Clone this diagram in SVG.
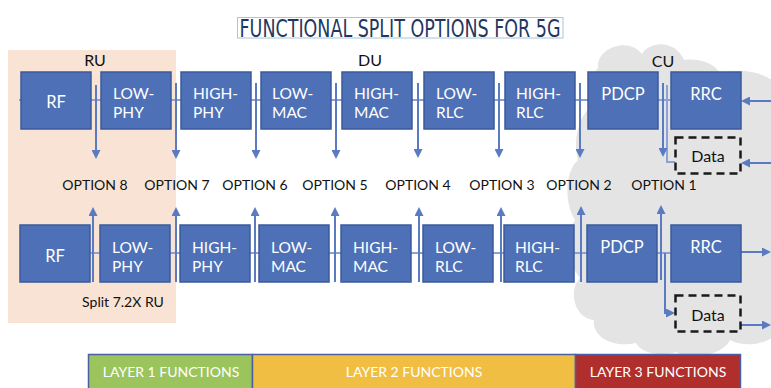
<svg xmlns="http://www.w3.org/2000/svg" width="771" height="388" viewBox="0 0 771 388">
  <defs>
    <style>
      .blk { fill: #4e70b6; stroke: #3b5a9c; stroke-width: 1.5; }
      .bt { font-family: Lato, "Open Sans", "Liberation Sans", sans-serif; font-size: 16.5px; fill: #ffffff; }
      .b2 { font-size: 15.5px; }
      .bc { text-anchor: middle; }
      .lbl { font-family: Lato, "Open Sans", "Liberation Sans", sans-serif; font-size: 16px; fill: #111111; text-anchor: middle; }
      .opt { font-family: Lato, "Open Sans", "Liberation Sans", sans-serif; font-size: 14px; fill: #111111; text-anchor: middle; }
      .bus { stroke: #8aa2d6; stroke-width: 2; fill: none; }
      .arw { stroke: #5a7bc2; stroke-width: 2; fill: none; marker-end: url(#ah); }
      .dat { fill: none; stroke: #1a1a1a; stroke-width: 2.5; stroke-dasharray: 8 5; }
      .lay { font-family: Lato, "Open Sans", "Liberation Sans", sans-serif; font-size: 14px; fill: #ffffff; text-anchor: middle; }
    </style>
    <marker id="ah" viewBox="0 0 10 10" refX="0" refY="5" markerWidth="9" markerHeight="9" markerUnits="userSpaceOnUse" orient="auto">
      <path d="M0,0 L10,5 L0,10 z" fill="#5a7bc2"/>
    </marker>
  </defs>

  <rect width="771" height="388" fill="#ffffff"/>

  <!-- CU cloud -->
  <path id="cu-cloud" fill="#e4e4e4" d="M598,68 C596,48 628,36 642,54 C650,40 676,40 684,60 C700,58 716,64 720,74 C740,66 775,74 780,90 L780,330 C770,345 745,348 730,340 C722,356 690,360 676,352 C660,358 640,352 636,343 C615,348 592,338 594,320 C574,318 568,290 580,278 C566,262 566,232 575,220 C563,200 566,170 578,160 C572,140 580,110 596,104 C588,92 590,76 598,68 Z"/>

  <!-- RU area -->
  <rect id="ru-area" x="8" y="50" width="168" height="273" fill="#f8e3d5"/>

  <!-- Title -->
  <g id="title">
    <rect x="237.5" y="17.5" width="325.5" height="20.5" fill="none" stroke="#a8c6d6" stroke-width="1"/>
    <text x="239.5" y="36.5" textLength="321" lengthAdjust="spacingAndGlyphs" font-family="'DejaVu Sans Condensed', 'Liberation Sans Narrow', 'DejaVu Sans', sans-serif" font-stretch="condensed" font-size="24" fill="#1f3862">FUNCTIONAL SPLIT OPTIONS FOR 5G</text>
  </g>

  <!-- Unit labels -->
  <text class="lbl" x="95" y="66">RU</text>
  <text class="lbl" x="370" y="66">DU</text>
  <text class="lbl" x="663" y="67">CU</text>

  <!-- Connectors -->
  <g id="connectors">
    <!-- top chain -->
    <line class="bus" x1="19" y1="100" x2="671" y2="100"/>
    <polyline class="bus" points="667,85 667,162 675,162"/>
    <!-- bottom chain -->
    <line class="bus" x1="20" y1="253" x2="671" y2="253"/>
    <polyline class="arw" points="665,253 665,313 666,313"/>
    <!-- top split arrows (down) -->
    <line class="arw" x1="96" y1="85" x2="96" y2="150"/>
    <line class="arw" x1="176" y1="83" x2="176" y2="150"/>
    <line class="arw" x1="256" y1="83" x2="256" y2="150"/>
    <line class="arw" x1="336" y1="83" x2="336" y2="150"/>
    <line class="arw" x1="418" y1="83" x2="418" y2="149"/>
    <line class="arw" x1="499" y1="83" x2="499" y2="149"/>
    <line class="arw" x1="580" y1="83" x2="580" y2="149"/>
    <line class="arw" x1="663" y1="83" x2="663" y2="148"/>
    <!-- bottom split arrows (up) -->
    <line class="arw" x1="93" y1="282" x2="93" y2="216"/>
    <line class="arw" x1="176" y1="282" x2="176" y2="216"/>
    <line class="arw" x1="255" y1="282" x2="255" y2="216"/>
    <line class="arw" x1="335" y1="282" x2="335" y2="216"/>
    <line class="arw" x1="419" y1="282" x2="419" y2="216"/>
    <line class="arw" x1="501" y1="282" x2="501" y2="216"/>
    <line class="arw" x1="581" y1="282" x2="581" y2="215"/>
    <line class="arw" x1="661" y1="280" x2="661" y2="214"/>
    <!-- external links -->
    <line class="arw" x1="771" y1="101" x2="750" y2="101"/>
    <line class="arw" x1="771" y1="163" x2="750" y2="163"/>
    <line class="arw" x1="740" y1="252" x2="762" y2="252"/>
    <line class="arw" x1="741" y1="325" x2="762" y2="325"/>
  </g>

  <!-- Top row -->
  <g id="t-rf"><rect class="blk" x="21" y="72" width="70" height="57"/><text class="bt bc" x="56" y="108">RF</text></g>
  <g id="t-lowphy"><rect class="blk" x="101" y="72" width="70" height="57"/><text class="bt b2"><tspan x="113" y="99">LOW-</tspan><tspan x="113" dy="18.7">PHY</tspan></text></g>
  <g id="t-highphy"><rect class="blk" x="181" y="72" width="70" height="57"/><text class="bt b2"><tspan x="193" y="99">HIGH-</tspan><tspan x="193" dy="18.7">PHY</tspan></text></g>
  <g id="t-lowmac"><rect class="blk" x="261" y="72" width="70" height="57"/><text class="bt b2"><tspan x="272" y="99">LOW-</tspan><tspan x="272" dy="18.7">MAC</tspan></text></g>
  <g id="t-highmac"><rect class="blk" x="342" y="72" width="70" height="57"/><text class="bt b2"><tspan x="354" y="99">HIGH-</tspan><tspan x="354" dy="18.7">MAC</tspan></text></g>
  <g id="t-lowrlc"><rect class="blk" x="424" y="72" width="70" height="57"/><text class="bt b2"><tspan x="436" y="99">LOW-</tspan><tspan x="436" dy="18.7">RLC</tspan></text></g>
  <g id="t-highrlc"><rect class="blk" x="505" y="72" width="70" height="57"/><text class="bt b2"><tspan x="516" y="99">HIGH-</tspan><tspan x="516" dy="18.7">RLC</tspan></text></g>
  <g id="t-pdcp"><rect class="blk" x="588" y="72" width="70" height="57"/><text class="bt bc" x="623" y="100">PDCP</text></g>
  <g id="t-rrc"><rect class="blk" x="671" y="72" width="70" height="57"/><text class="bt bc" x="706" y="100">RRC</text></g>
  <g id="t-data"><rect class="dat" x="675.5" y="137.5" width="65" height="36"/><text class="lbl" x="708" y="162">Data</text></g>

  <!-- Split options -->
  <g id="options">
    <text class="opt" x="95" y="190">OPTION 8</text>
    <text class="opt" x="177" y="190">OPTION 7</text>
    <text class="opt" x="255" y="190">OPTION 6</text>
    <text class="opt" x="335" y="190">OPTION 5</text>
    <text class="opt" x="418" y="190">OPTION 4</text>
    <text class="opt" x="502" y="190">OPTION 3</text>
    <text class="opt" x="579" y="190">OPTION 2</text>
    <text class="opt" x="664" y="190">OPTION 1</text>
  </g>

  <!-- Bottom row -->
  <g id="b-rf"><rect class="blk" x="20" y="225" width="70" height="57"/><text class="bt bc" x="55" y="262">RF</text></g>
  <g id="b-lowphy"><rect class="blk" x="100" y="225" width="70" height="57"/><text class="bt b2"><tspan x="112" y="253">LOW-</tspan><tspan x="112" dy="18.7">PHY</tspan></text></g>
  <g id="b-highphy"><rect class="blk" x="180" y="225" width="70" height="57"/><text class="bt b2"><tspan x="192" y="253">HIGH-</tspan><tspan x="192" dy="18.7">PHY</tspan></text></g>
  <g id="b-lowmac"><rect class="blk" x="259" y="225" width="70" height="57"/><text class="bt b2"><tspan x="271" y="253">LOW-</tspan><tspan x="271" dy="18.7">MAC</tspan></text></g>
  <g id="b-highmac"><rect class="blk" x="341" y="225" width="70" height="57"/><text class="bt b2"><tspan x="353" y="253">HIGH-</tspan><tspan x="353" dy="18.7">MAC</tspan></text></g>
  <g id="b-lowrlc"><rect class="blk" x="423" y="225" width="70" height="57"/><text class="bt b2"><tspan x="435" y="253">LOW-</tspan><tspan x="435" dy="18.7">RLC</tspan></text></g>
  <g id="b-highrlc"><rect class="blk" x="504" y="225" width="70" height="57"/><text class="bt b2"><tspan x="515" y="253">HIGH-</tspan><tspan x="515" dy="18.7">RLC</tspan></text></g>
  <g id="b-pdcp"><rect class="blk" x="587" y="225" width="70" height="57"/><text class="bt bc" x="622" y="253">PDCP</text></g>
  <g id="b-rrc"><rect class="blk" x="671" y="225" width="70" height="57"/><text class="bt bc" x="706" y="253">RRC</text></g>
  <g id="b-data"><rect class="dat" x="675.5" y="295.5" width="65" height="36"/><text class="lbl" x="708" y="321">Data</text></g>

  <text class="opt" x="123" y="307">Split 7.2X RU</text>

  <!-- Layer bar -->
  <g id="layers">
    <rect x="88.5" y="354.5" width="164" height="40" fill="#9bc45c" stroke="#4b5fa3" stroke-width="1.5"/>
    <rect x="252.5" y="354.5" width="323" height="40" fill="#f1be44" stroke="#4b5fa3" stroke-width="1.5"/>
    <rect x="575.5" y="354.5" width="165" height="40" fill="#b02f2d" stroke="#4b5fa3" stroke-width="1.5"/>
    <text class="lay" x="171" y="377">LAYER 1 FUNCTIONS</text>
    <text class="lay" x="414" y="377">LAYER 2 FUNCTIONS</text>
    <text class="lay" x="658" y="377">LAYER 3 FUNCTIONS</text>
  </g>
</svg>
